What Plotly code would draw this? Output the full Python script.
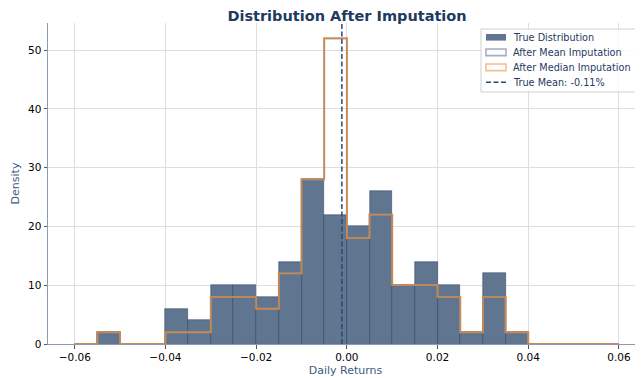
import plotly.graph_objects as go

# Histogram bins (width 0.005) from -0.06 to 0.06
bin_width = 0.005
bin_edges = [round(-0.06 + i * bin_width, 3) for i in range(25)]
bin_centers = [round(e + bin_width / 2, 4) for e in bin_edges[:-1]]

# Density values
true_density = [0, 2, 0, 0, 6, 4, 10, 10, 8, 14, 28, 22, 20, 26, 10, 14, 10, 2, 12, 2, 0, 0, 0, 0]
mean_imp_density = [0, 2, 0, 0, 2, 2, 8, 8, 6, 12, 28, 52, 18, 22, 10, 10, 8, 2, 8, 2, 0, 0, 0, 0]
median_imp_density = [0, 2, 0, 0, 2, 2, 8, 8, 6, 12, 28, 52, 18, 22, 10, 10, 8, 2, 8, 2, 0, 0, 0, 0]

true_mean = -0.0011
legend_labels = ["True Distribution", "After Mean Imputation", "After Median Imputation", "True Mean: -0.11%"]

x_ticks = [-0.06, -0.04, -0.02, 0.0, 0.02, 0.04, 0.06]
y_ticks = [0, 10, 20, 30, 40, 50]
y_top = 54.6

FONT = "DejaVu Sans"
NAVY = "#1f3a5f"
LABEL = "#3d5a80"
BAR_FILL = "rgb(96,117,143)"
MEAN_C = "rgba(130,148,172,0.85)"
MED_C = "rgba(210,135,65,0.85)"
VLINE_C = "#2c4a6e"

# page body has an 8px margin; work in screen pixels and convert
OFF = 8
W, H = 643 - OFF, 378 - OFF
ML, MR, MT, MB = 48 - OFF, 0, 23 - OFF, 378 - 344
PW, PH = W - ML - MR, H - MT - MB

def px(xs):
    return (xs - OFF - ML) / PW

def py(ys):
    return (H + OFF - MB - ys) / PH

fig = go.Figure()

fig.add_trace(go.Bar(
    x=bin_centers, y=true_density, width=bin_width,
    marker=dict(color=BAR_FILL, line=dict(color="rgba(30,50,85,0.75)", width=0.6)),
    showlegend=False,
))

def step_xy(vals):
    xs = [bin_edges[0]] + list(bin_edges) + [bin_edges[-1]]
    ys = [0] + list(vals) + [vals[-1]] + [0]
    return xs, ys

mx, my = step_xy(mean_imp_density)
fig.add_trace(go.Scatter(x=mx, y=my, mode="lines", line=dict(color=MEAN_C, width=1.8, shape="hv"),
                         showlegend=False, hoverinfo="skip"))
dx, dy = step_xy(median_imp_density)
fig.add_trace(go.Scatter(x=dx, y=dy, mode="lines", line=dict(color=MED_C, width=1.8, shape="hv"),
                         showlegend=False, hoverinfo="skip"))

fig.add_trace(go.Scatter(x=[true_mean, true_mean], y=[0, y_top], mode="lines",
                         line=dict(color=VLINE_C, width=1.5, dash="5px,2.5px"),
                         showlegend=False))

# Manual legend (matplotlib-like compact layout)
shapes = []
annotations = []
shapes.append(dict(type="rect", xref="paper", yref="paper",
                   x0=px(481), x1=px(638), y0=py(92), y1=py(29),
                   fillcolor="rgba(255,255,255,0.85)", line=dict(color="#d0d0d0", width=1), layer="above"))
rows = [37.3, 52.3, 67.3, 82.3]
sw_x0, sw_x1 = 486, 506
shapes.append(dict(type="rect", xref="paper", yref="paper", x0=px(sw_x0), x1=px(sw_x1),
                   y0=py(rows[0] + 3.3), y1=py(rows[0] - 3.3), fillcolor=BAR_FILL,
                   line=dict(width=0), layer="above"))
shapes.append(dict(type="rect", xref="paper", yref="paper", x0=px(sw_x0), x1=px(sw_x1),
                   y0=py(rows[1] + 3.3), y1=py(rows[1] - 3.3), fillcolor="rgba(0,0,0,0)",
                   line=dict(color="rgba(150,165,188,0.9)", width=1.6), layer="above"))
shapes.append(dict(type="rect", xref="paper", yref="paper", x0=px(sw_x0), x1=px(sw_x1),
                   y0=py(rows[2] + 3.3), y1=py(rows[2] - 3.3), fillcolor="rgba(0,0,0,0)",
                   line=dict(color="rgba(240,190,135,0.95)", width=1.6), layer="above"))
shapes.append(dict(type="line", xref="paper", yref="paper", x0=px(sw_x0), x1=px(sw_x1),
                   y0=py(rows[3]), y1=py(rows[3]),
                   line=dict(color=VLINE_C, width=1.5, dash="5px,2.5px"), layer="above"))
for lab, r in zip(legend_labels, rows):
    annotations.append(dict(text=lab, xref="paper", yref="paper", x=px(512), y=py(r),
                            xanchor="left", yanchor="middle", showarrow=False, borderpad=0,
                            font=dict(family=FONT, size=9.7, color=NAVY)))

fig.update_layout(
    width=W, height=H,
    margin=dict(l=ML, r=MR, t=MT, b=MB, autoexpand=False),
    paper_bgcolor="white", plot_bgcolor="white",
    barmode="overlay", bargap=0,
    font=dict(family=FONT, size=10, color="black"),
    title=dict(text="<b>Distribution After Imputation</b>", x=(347 - OFF) / W, xanchor="center",
               y=1 - (15.5 - OFF) / H, yanchor="middle",
               font=dict(family=FONT, size=14.5, color=NAVY)),
    showlegend=False,
    shapes=shapes,
    annotations=annotations,
)

fig.update_xaxes(
    range=[-0.0659, 0.0653], tickvals=x_ticks, tickformat=".2f", automargin=False,
    showgrid=True, gridcolor="#dcdde6", gridwidth=0.8,
    showline=True, linecolor="#8b9bb3", linewidth=1,
    ticks="outside", ticklen=3.5, tickcolor="#555", zeroline=False,
    title=dict(text="Daily Returns", font=dict(family=FONT, size=11, color=LABEL), standoff=4),
    tickfont=dict(family=FONT, size=10.5, color="black"),
)
fig.update_yaxes(
    range=[0, y_top], tickvals=y_ticks, automargin=False,
    showgrid=True, gridcolor="#dcdde6", gridwidth=0.8,
    showline=True, linecolor="#8b9bb3", linewidth=1,
    ticks="outside", ticklen=3.5, tickcolor="#555", zeroline=False,
    title=dict(text="Density", font=dict(family=FONT, size=11, color=LABEL), standoff=6),
    tickfont=dict(family=FONT, size=10.5, color="black"),
)

fig.write_html("out.html")
